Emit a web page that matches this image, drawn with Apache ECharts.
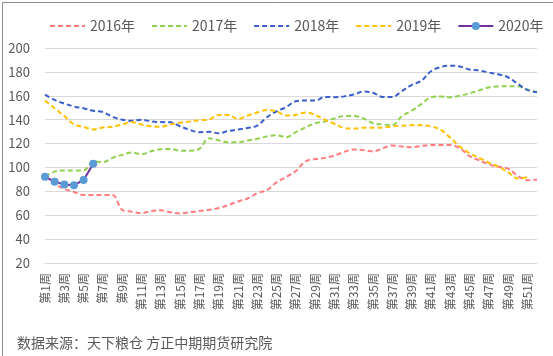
<!DOCTYPE html>
<html>
<head>
<meta charset="utf-8">
<script src="https://cdn.jsdelivr.net/npm/echarts@6/dist/echarts.min.js"></script>
<style>
html,body{margin:0;padding:0;background:#fff;}
#chart{width:553px;height:356px;}
</style>
</head>
<body>
<div id="chart"></div>
<script>
const weeks = [];
for (let i = 1; i <= 52; i++) weeks.push('第' + i + '周');

const seriesNames = ['2016年', '2017年', '2018年', '2019年', '2020年'];

const data2016 = [92.3, 86.5, 82, 79.5, 77, 77, 77, 77, 64.5, 63, 61.7, 63.5, 64.2, 62.5, 61.5, 62.5, 63.5,
  64.5, 66, 68.5, 71.5, 74, 78.5, 81, 87.5, 92, 97, 105, 107, 108, 110, 113, 115, 114.5, 113.5, 116,
  118.4, 117.5, 117, 118, 118.7, 118.7, 118.7, 116, 109.5, 106, 102.5, 100.5, 99, 93, 89.2, 90];

const data2017 = [92.5, 96.5, 97.5, 97.5, 97.5, 105, 104.5, 108, 110.5, 112.5, 111, 113.5, 115.3, 115.5, 114, 114, 115.5,
  124.5, 122.8, 121, 121, 122.6, 124, 126, 127, 125.3, 129.5, 133.5, 137, 138.5, 141, 143, 143, 141, 137, 136,
  135.5, 143, 147.5, 153, 158.7, 159.5, 158.7, 160, 162, 164.5, 167, 167.8, 168, 168, 165, 163];

const data2018 = [161, 156.5, 153.5, 151, 149.5, 147.5, 146.3, 142.5, 140, 139, 140, 138.5, 138, 137.8, 134.5, 131.5, 129.5,
  129.8, 128.7, 130.5, 131.8, 133, 135, 142, 147, 150.5, 155.5, 156, 156, 159, 158.8, 159.5, 161, 163.5, 162.5, 159,
  159, 164, 169, 172.5, 180.5, 184, 185.2, 184.5, 182, 181.2, 179.5, 178, 175.5, 170, 165, 163];

const data2019 = [156, 149.5, 143, 136, 134, 131.8, 133.5, 134, 136, 138, 136, 134.5, 134, 136, 137.5, 138.5, 139.5,
  140, 144, 144, 140.5, 143.5, 146, 148, 147, 143.5, 144, 146, 144, 140, 136.5, 133, 132.5, 133.2, 133.2, 133.5,
  134.3, 135, 135.3, 135.3, 134.5, 131.5, 125, 117.5, 112, 108, 104, 100.5, 96, 90.8, 91.8, null];

const data2020 = [92.3, 88, 85.8, 85, 89.5, 103.1];

const yTicks = { min: 20, max: 200, interval: 20 };
const sourceText = '数据来源：天下粮仓 方正中期期货研究院';

const colors = ['#FF7C80', '#92D050', '#3A5FCD', '#FFC000', '#7030A0'];
const FONT = '"Noto Sans CJK SC", "Noto Sans", sans-serif';

function dashed(name, data, color) {
  return {
    name: name, type: 'line', data: data, smooth: 0.35, showSymbol: false, symbol: 'none',
    lineStyle: { color: color, width: 2, type: [5, 3] },
    itemStyle: { color: color },
    connectNulls: false, z: 2
  };
}

const legendData = seriesNames.map(function (n, i) {
  return i < 4 ? { name: n, itemStyle: { opacity: 0, borderWidth: 0 } } : { name: n };
});

const chart = echarts.init(document.getElementById('chart'), null, { renderer: 'canvas' });
chart.setOption({
  animation: false,
  backgroundColor: '#fff',
  textStyle: { fontFamily: FONT },
  legend: {
    left: 49, top: 19, padding: 0, width: 500,
    itemWidth: 35, itemHeight: 10, itemGap: 16,
    textStyle: { fontSize: 14, color: '#595959', fontFamily: FONT },
    data: legendData
  },
  grid: { left: 45, right: 16, top: 48, bottom: 93, containLabel: false },
  xAxis: {
    type: 'category', data: weeks, boundaryGap: false,
    axisLine: { lineStyle: { color: '#d9d9d9', width: 1 } },
    axisTick: { show: false },
    axisLabel: { interval: 1, rotate: 90, fontSize: 12, color: '#595959', margin: 10, fontFamily: FONT }
  },
  yAxis: {
    type: 'value', min: yTicks.min, max: yTicks.max, interval: yTicks.interval,
    axisLine: { show: false }, axisTick: { show: false },
    axisLabel: { fontSize: 13, color: '#595959', margin: 15, fontFamily: FONT },
    splitLine: { lineStyle: { color: '#d9d9d9', width: 1 } }
  },
  series: [
    dashed(seriesNames[0], data2016, colors[0]),
    dashed(seriesNames[1], data2017, colors[1]),
    dashed(seriesNames[2], data2018, colors[2]),
    dashed(seriesNames[3], data2019, colors[3]),
    {
      name: seriesNames[4], type: 'line', data: data2020, smooth: false,
      symbol: 'circle', symbolSize: 8, showSymbol: true, showAllSymbol: true,
      lineStyle: { color: colors[4], width: 2 },
      itemStyle: { color: '#5B9BD5', borderWidth: 0 },
      z: 5
    }
  ],
  graphic: [
    {
      type: 'rect', left: 0, top: 0, silent: true,
      shape: { x: 0.5, y: 0.5, width: 552, height: 355 },
      style: { fill: 'none', stroke: '#8c8c8c', lineWidth: 1 }
    },
    {
      type: 'text', left: 17, top: 336,
      style: { text: sourceText, fontSize: 14, fill: '#595959', fontFamily: FONT }
    }
  ]
});
</script>
</body>
</html>
